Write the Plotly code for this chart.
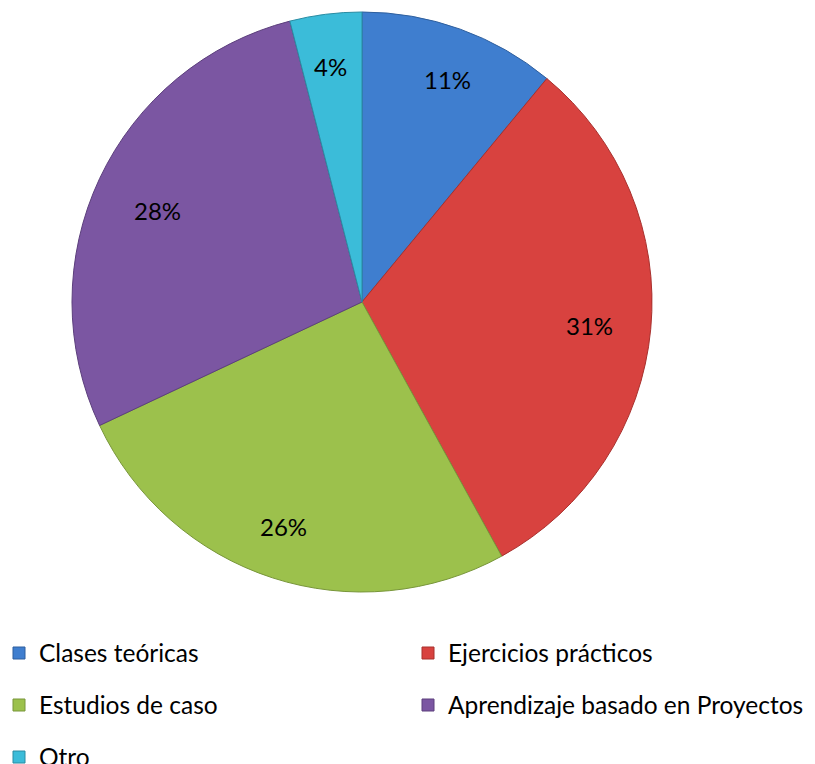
import math
import plotly.graph_objects as go

labels = ["Clases teóricas", "Ejercicios prácticos", "Estudios de caso",
          "Aprendizaje basado en Proyectos", "Otro"]
values = [11, 31, 26, 28, 4]
colors = ["#3F7ECF", "#D8423F", "#9CC14C", "#7B56A2", "#3BBCD9"]
edge = ["#2E5F9E", "#A8302D", "#78963A", "#5C3F7C", "#2A8CA3"]

W, H = 815, 764
MB = 150          # bottom margin holding the legend
PH = H - MB       # plot-area height
OFF = 8           # page body margin
cx, cy, R = 362 - OFF, 302 - OFF, 290

legend_text = [f'<span style="font-size:24.5px;baseline-shift:6px">{t}</span>' for t in labels]

fig = go.Figure(go.Pie(
    labels=legend_text, values=values, sort=False, direction="clockwise",
    marker=dict(colors=colors, line=dict(color=edge, width=1)),
    textinfo="none", hovertext=labels, hoverinfo="text+percent",
    domain=dict(x=[(cx - R) / W, (cx + R) / W], y=[1 - (cy + R) / PH, 1 - (cy - R) / PH]),
))

total = sum(values)
cum = 0
anns = []
for v in values:
    mid = (cum + v / 2) / total * 2 * math.pi
    cum += v
    rr = 0.875 * R
    x = (cx + rr * math.sin(mid)) / W
    y = 1 - (cy - rr * math.cos(mid)) / PH
    anns.append(dict(x=x, y=y, xref="paper", yref="paper", showarrow=False,
                     text=f"{round(v / total * 100)}%",
                     font=dict(family="Lato", size=24, color="black")))

fig.update_layout(
    width=W, height=H, margin=dict(l=0, r=0, t=0, b=MB, autoexpand=False),
    paper_bgcolor="white", plot_bgcolor="white",
    annotations=anns,
    legend=dict(orientation="h", x=-9 / W, xanchor="left", y=0, yanchor="top",
                font=dict(family="Lato", size=37.7, color="black"),
                entrywidth=364, entrywidthmode="pixels",
                itemclick=False, itemdoubleclick=False),
)
fig.write_html("out.html")
